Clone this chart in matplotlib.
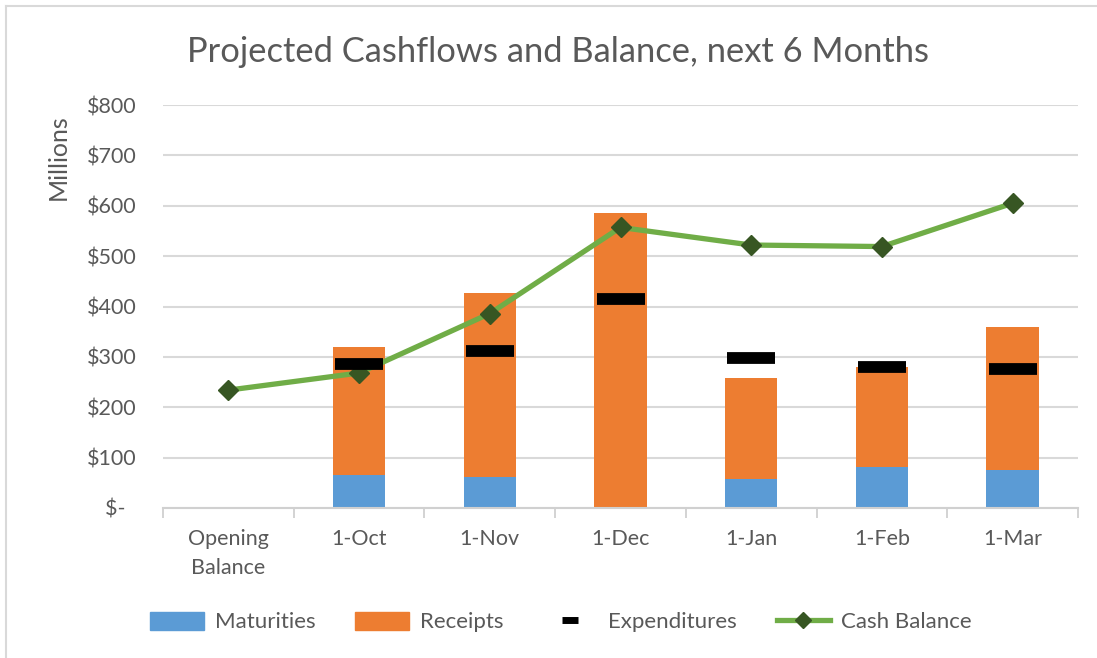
import numpy as np
import matplotlib.pyplot as plt
from matplotlib.lines import Line2D
from matplotlib.patches import Patch

plt.rcParams['font.family'] = ['Lato', 'DejaVu Sans']

# data (millions)
categories = ['Opening\nBalance', '1-Oct', '1-Nov', '1-Dec', '1-Jan', '1-Feb', '1-Mar']
maturities = [0, 65, 62, 0, 57, 81, 75]
receipts = [0, 255, 364, 585, 201, 198, 285]
expenditures = [np.nan, 286, 311, 415, 298, 280, 276]
cash_balance = [234, 268, 386, 557, 522, 519, 605]
y_ticks = [0, 100, 200, 300, 400, 500, 600, 700, 800]

grey = '#595959'
W, H = 1097, 658
fig = plt.figure(figsize=(W / 100, H / 100), dpi=100)
ax = fig.add_axes([163 / W, 1 - 508 / H, (1078 - 163) / W, (508 - 105) / H])

x = np.arange(len(categories))
ax.bar(x, maturities, width=0.4, color='#5B9BD5', zorder=2)
ax.bar(x, receipts, width=0.4, bottom=maturities, color='#ED7D31', zorder=2)
ax.plot(x, cash_balance, color='#70AD47', linewidth=3.8, marker='D',
        markersize=10, markerfacecolor='#375623', markeredgecolor='#375623', zorder=3)
ax.plot(x, expenditures, linestyle='none', marker='_', markersize=34,
        markeredgewidth=8.5, color='black', zorder=4)

ax.set_xlim(-0.5, len(categories) - 0.5)
ax.set_ylim(0, 800)
ax.set_yticks(y_ticks)
ax.set_yticklabels(['$-  ' if v == 0 else f'${v}' for v in y_ticks])
ax.set_xticks(x)
ax.set_xticklabels(categories, linespacing=1.6)
ax.set_xticks(np.arange(len(categories) + 1) - 0.5, minor=True)
ax.tick_params(axis='x', which='major', length=0, pad=15, labelsize=15.5, labelcolor=grey)
ax.tick_params(axis='x', which='minor', length=7, color='#D0D0D0', width=1.3)
ax.tick_params(axis='y', length=0, pad=19, labelsize=15.5, labelcolor=grey)
ax.grid(axis='y', color='#D9D9D9', linewidth=1.5, zorder=0)
ax.set_axisbelow(True)
for s in ['top', 'right', 'left']:
    ax.spines[s].set_visible(False)
ax.spines['bottom'].set_color('#D0D0D0')
ax.spines['bottom'].set_linewidth(1.5)

fig.text(558 / W, 1 - 52 / H, 'Projected Cashflows and Balance, next 6 Months',
         ha='center', va='center', fontsize=24.8, color=grey)
fig.text(58 / W, 1 - 157 / H, 'Millions', rotation=90, ha='center', va='center',
         fontsize=18, color=grey)

handles = [Patch(color='#5B9BD5'), Patch(color='#ED7D31'),
           Line2D([], [], linestyle='none', marker='_', markersize=11,
                  markeredgewidth=5, color='black'),
           Line2D([], [], color='#70AD47', linewidth=3.8, marker='D', markersize=8,
                  markerfacecolor='#375623', markeredgecolor='#375623')]
fig.legend(handles, ['Maturities', 'Receipts', 'Expenditures', 'Cash Balance'],
           loc='center', bbox_to_anchor=(561 / W, 1 - 622 / H), ncol=4, frameon=False,
           fontsize=16, labelcolor=grey, handlelength=2.4, handletextpad=0.5,
           columnspacing=1.8, handleheight=0.9)

# chart border (cropped)
fig.add_artist(Line2D([6 / W, 1], [1 - 6 / H, 1 - 6 / H], color='#D9D9D9', linewidth=1.5))
fig.add_artist(Line2D([6 / W, 6 / W], [0, 1 - 6 / H], color='#D9D9D9', linewidth=1.5))

fig.savefig('out.png', dpi=100)
